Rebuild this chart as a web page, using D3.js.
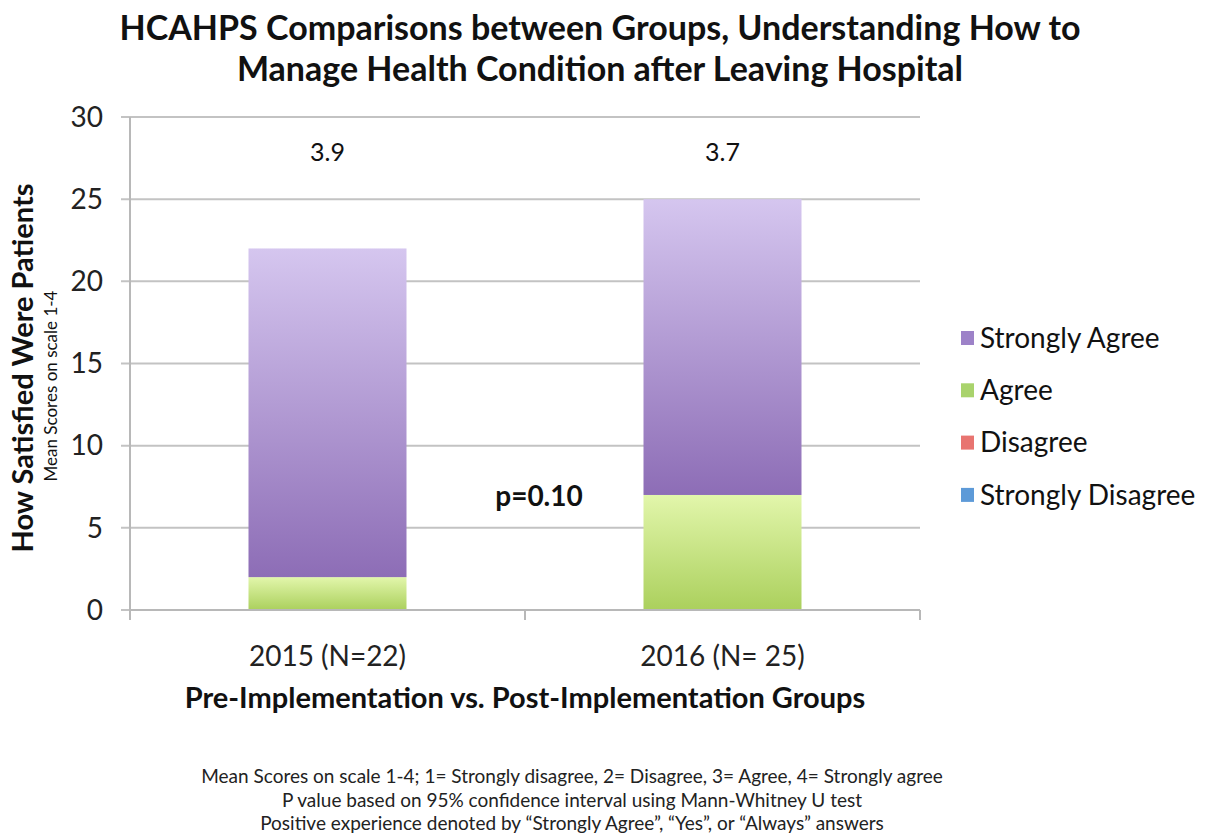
<!DOCTYPE html>
<html>
<head>
  <meta charset="utf-8" />
  <title>HCAHPS Comparisons</title>
  <script src="https://d3js.org/d3.v7.min.js"></script>
  <style>
    body { margin: 0; background: #fff; }
    text { font-family: Lato, "Open Sans", sans-serif; fill: #111; }
  </style>
</head>
<body>
<div id="chart"></div>
<script>
  // data
  const groups = ["2015 (N=22)", "2016 (N= 25)"];
  const strongDisagree = [0, 0];
  const disagree = [0, 0];
  const agree = [2, 7];
  const strongAgree = [20, 18];
  const means = ["3.9", "3.7"];
  const yTicks = [0, 5, 10, 15, 20, 25, 30];
  const seriesNames = ["Strongly Disagree", "Disagree", "Agree", "Strongly Agree"];
  const legendOrder = ["Strongly Agree", "Agree", "Disagree", "Strongly Disagree"];
  const footnotes = [
    "Mean Scores on scale 1-4;  1= Strongly disagree, 2= Disagree, 3= Agree, 4= Strongly agree",
    "P value based on 95% confidence interval using Mann-Whitney U test",
    "Positive experience denoted by \u201cStrongly Agree\u201d, \u201cYes\u201d, or \u201cAlways\u201d answers"
  ];

  const width = 1216, height = 840;
  const margin = { left: 130, right: 296, top: 117, bottom: 230 };
  const plotW = width - margin.left - margin.right;
  const plotH = height - margin.top - margin.bottom;

  const svg = d3.select("#chart").append("svg")
    .attr("width", width).attr("height", height);

  const defs = svg.append("defs");
  function grad(id, top, bottom) {
    const g = defs.append("linearGradient").attr("id", id)
      .attr("x1", 0).attr("y1", 0).attr("x2", 0).attr("y2", 1);
    g.append("stop").attr("offset", "0%").attr("stop-color", top);
    g.append("stop").attr("offset", "100%").attr("stop-color", bottom);
  }
  grad("gSA", "#d5c6ef", "#8d6db6");
  grad("gA", "#e2f6ab", "#abd05d");
  grad("gD", "#f5a3a0", "#d9534f");
  grad("gSD", "#a9cbf0", "#4d8fd6");
  const fills = { "Strongly Agree": "url(#gSA)", "Agree": "url(#gA)", "Disagree": "url(#gD)", "Strongly Disagree": "url(#gSD)" };
  const swatch = { "Strongly Agree": "#9d82c8", "Agree": "#a9d36c", "Disagree": "#e87470", "Strongly Disagree": "#5d9ad8" };

  const table = groups.map((g, i) => ({
    group: g,
    "Strongly Disagree": strongDisagree[i],
    "Disagree": disagree[i],
    "Agree": agree[i],
    "Strongly Agree": strongAgree[i]
  }));
  const stacked = d3.stack().keys(seriesNames)(table);

  const x = d3.scaleBand().domain(groups).range([0, plotW]).paddingInner(0.6).paddingOuter(0.3);
  const y = d3.scaleLinear().domain([0, 30]).range([plotH, 0]);

  const g = svg.append("g").attr("transform", `translate(${margin.left},${margin.top})`);

  // gridlines
  g.append("g").selectAll("line").data(yTicks).join("line")
    .attr("x1", -9).attr("x2", plotW)
    .attr("y1", d => y(d)).attr("y2", d => y(d))
    .attr("stroke", "#c3c3c3").attr("stroke-width", 2);

  // y axis line
  g.append("line").attr("x1", 0).attr("x2", 0).attr("y1", 0).attr("y2", plotH)
    .attr("stroke", "#b8b8b8").attr("stroke-width", 2);

  // y tick labels
  g.append("g").selectAll("text").data(yTicks).join("text")
    .attr("x", -27).attr("y", d => y(d)).attr("dy", "0.35em")
    .attr("text-anchor", "end").style("font-size", "28px").style("fill", "#222")
    .text(d => d);

  // bars
  g.append("g").selectAll("g").data(stacked).join("g")
    .attr("fill", d => fills[d.key])
    .selectAll("rect").data(d => d).join("rect")
    .attr("x", d => x(d.data.group))
    .attr("width", x.bandwidth())
    .attr("y", d => y(d[1]))
    .attr("height", d => y(d[0]) - y(d[1]));

  // x axis line with ticks at category boundaries
  g.append("line").attr("x1", 0).attr("x2", plotW).attr("y1", plotH).attr("y2", plotH)
    .attr("stroke", "#b8b8b8").attr("stroke-width", 2);
  g.append("g").selectAll("line").data([0, plotW / 2, plotW]).join("line")
    .attr("x1", d => d).attr("x2", d => d)
    .attr("y1", plotH).attr("y2", plotH + 10)
    .attr("stroke", "#b8b8b8").attr("stroke-width", 2);

  // x tick labels
  g.append("g").selectAll("text").data(groups).join("text")
    .attr("x", d => x(d) + x.bandwidth() / 2).attr("y", plotH + 56)
    .attr("text-anchor", "middle").style("font-size", "28px").style("fill", "#222")
    .text(d => d);

  // mean labels above bars
  g.append("g").selectAll("text").data(groups).join("text")
    .attr("x", d => x(d) + x.bandwidth() / 2).attr("y", y(27.3))
    .attr("text-anchor", "middle").style("font-size", "25px")
    .text((d, i) => means[i]);

  // p value
  g.append("text").attr("x", plotW / 2 + 14).attr("y", y(6.3))
    .attr("text-anchor", "middle").style("font-size", "28px").style("font-weight", "bold")
    .text("p=0.10");

  // title
  svg.append("text").attr("x", 600).attr("y", 40).attr("text-anchor", "middle")
    .style("font-size", "34px").style("font-weight", "bold").text("HCAHPS Comparisons between Groups, Understanding How to");
  svg.append("text").attr("x", 600).attr("y", 81).attr("text-anchor", "middle")
    .style("font-size", "34px").style("font-weight", "bold").text("Manage Health Condition after Leaving Hospital");

  // y axis titles
  svg.append("text").attr("transform", "translate(33,368) rotate(-90)").attr("text-anchor", "middle")
    .style("font-size", "29px").style("font-weight", "bold").text("How Satisfied Were Patients");
  svg.append("text").attr("transform", "translate(57,386) rotate(-90)").attr("text-anchor", "middle")
    .style("font-size", "17px").text("Mean Scores on scale 1-4");

  // x axis title
  svg.append("text").attr("x", 525).attr("y", 708).attr("text-anchor", "middle")
    .style("font-size", "29px").style("font-weight", "bold").text("Pre-Implementation vs. Post-Implementation Groups");

  // legend
  const leg = svg.append("g").attr("transform", "translate(961,338)");
  const rows = leg.selectAll("g").data(legendOrder).join("g")
    .attr("transform", (d, i) => `translate(0,${i * 52.3})`);
  rows.append("rect").attr("x", 0).attr("y", -7).attr("width", 13).attr("height", 14)
    .attr("fill", d => swatch[d]);
  rows.append("text").attr("x", 19).attr("dy", "0.35em").style("font-size", "28px").text(d => d);

  // footnotes
  svg.append("g").selectAll("text").data(footnotes).join("text")
    .attr("x", 572).attr("y", (d, i) => 783 + i * 23.5).attr("text-anchor", "middle")
    .style("font-size", "19px").style("fill", "#222").text(d => d);
</script>
</body>
</html>
